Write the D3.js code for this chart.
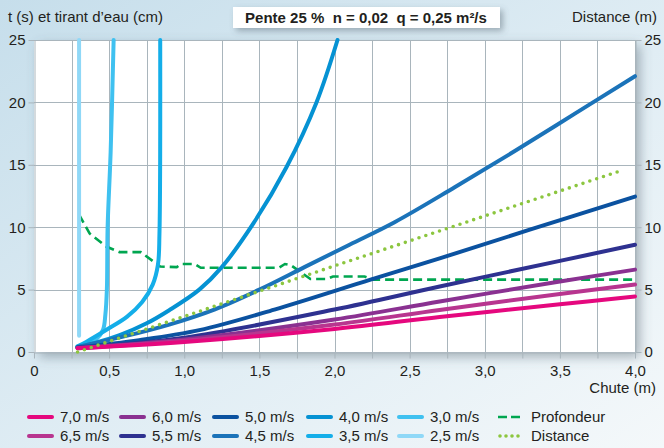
<!DOCTYPE html>
<html>
<head>
<meta charset="utf-8">
<script src="https://cdn.jsdelivr.net/npm/d3@7"></script>
<style>
	body { margin: 0; }
	svg { display: block; font-family: "Liberation Sans", Arial, sans-serif; }
</style>
</head>
<body>
<svg class="chart"></svg>
<script>

// chute (m) / t (s)
let s70 = [[0.29, 0.3], [1.0, 0.8], [2.0, 1.85], [2.7, 2.8], [3.5, 3.82], [4.0, 4.45]];
let s65 = [[0.29, 0.3], [1.0, 0.9], [2.0, 2.2], [2.7, 3.37], [3.5, 4.65], [4.0, 5.4]];
let s60 = [[0.29, 0.32], [1.0, 1.0], [2.0, 2.6], [2.7, 4.05], [3.5, 5.65], [4.0, 6.6]];
let s55 = [[0.29, 0.34], [1.0, 1.15], [2.0, 3.4], [2.7, 5.25], [3.5, 7.3], [4.0, 8.6]];
let s50 = [[0.29, 0.36], [0.7, 0.95], [1.1, 1.75], [1.6, 3.4], [2.24, 5.8], [2.7, 7.5], [3.3, 9.8], [4.0, 12.45]];
let s45 = [[0.29, 0.4], [0.6, 1.25], [0.9, 2.2], [1.2, 3.4], [1.5, 5.0], [1.8, 6.8], [2.1, 8.6], [2.4, 10.4], [2.8, 13.2], [3.2, 16.1], [3.6, 19.1], [4.0, 22.1]];
let s40 = [[0.29, 0.4], [0.4, 0.7], [0.57, 1.35], [0.75, 2.3], [0.9, 3.35], [1.1, 5.0], [1.25, 6.8], [1.46, 10.3], [1.68, 14.8], [1.88, 20.0], [2.02, 25]];
let s35 = [[0.29, 0.45], [0.35, 0.83], [0.48, 1.76], [0.62, 2.83], [0.72, 4.0], [0.79, 5.4], [0.825, 7.0], [0.835, 9.5], [0.84, 25]];
let s30 = [[0.29, 0.45], [0.35, 0.7], [0.42, 1.1], [0.46, 1.8], [0.475, 3], [0.485, 5], [0.49, 10], [0.51, 16], [0.53, 25]];
let s25 = [[0.30, 1.3], [0.30, 25]];

let profondeur = [[0.30, 11.0], [0.37, 9.5], [0.48, 8.45], [0.57, 8.0], [0.71, 8.0], [0.84, 6.85], [0.95, 6.8], [0.98, 7.05], [1.07, 7.05], [1.11, 6.75],
	[1.63, 6.75], [1.67, 7.05], [1.71, 6.95], [1.84, 5.85], [1.95, 5.85], [1.99, 6.05], [2.20, 6.05], [2.26, 5.8], [4.0, 5.8]];
let distance = [[0.29, 0.0], [1.0, 2.85], [2.0, 6.9], [3.0, 10.9], [3.9, 14.5]];

let speedLabels = ['2,5 m/s', '3,0 m/s', '3,5 m/s', '4,0 m/s', '4,5 m/s', '5,0 m/s', '5,5 m/s', '6,0 m/s', '6,5 m/s', '7,0 m/s'];
let speedSeries = [s25, s30, s35, s40, s45, s50, s55, s60, s65, s70];
let speedColors = ['#8fd8f7', '#3fc1f0', '#14aee9', '#0592d3', '#1b73b9', '#0b52a0', '#2e3190', '#8a3191', '#b8358f', '#e5087e'];

let yTicks = [0, 5, 10, 15, 20, 25];
let xTicks = d3.range(0, 4.01, 0.25);

let title = 'Pente 25 %  n = 0,02  q = 0,25 m²/s';

let width = 664, height = 448;

let x = d3.scaleLinear().domain([0, 4]).range([34, 635]);
let y = d3.scaleLinear().domain([0, 25]).range([352, 40]);

let svg = d3.select('.chart')
			.attr('width', width)
			.attr('height', height);

let defs = svg.append('defs');

let bg = defs.append('linearGradient')
		.attr('id', 'bg')
		.attr('x1', 0).attr('y1', 0).attr('x2', 1).attr('y2', 1);
bg.append('stop').attr('offset', 0).attr('stop-color', '#c6deeb');
bg.append('stop').attr('offset', 0.55).attr('stop-color', '#e0edf4');
bg.append('stop').attr('offset', 1).attr('stop-color', '#f4f8fa');

let shadow = defs.append('filter')
		.attr('id', 'shadow')
		.attr('x', -0.1).attr('y', -0.1).attr('width', 1.3).attr('height', 1.3);
shadow.append('feDropShadow')
		.attr('dx', 5).attr('dy', 5)
		.attr('stdDeviation', 6)
		.attr('flood-color', '#4d5f6a')
		.attr('flood-opacity', 0.45);

let shadowSmall = defs.append('filter')
		.attr('id', 'shadowSmall')
		.attr('x', -0.1).attr('y', -0.3).attr('width', 1.2).attr('height', 1.8);
shadowSmall.append('feDropShadow')
		.attr('dx', 3).attr('dy', 3)
		.attr('stdDeviation', 3)
		.attr('flood-color', '#4d5f6a')
		.attr('flood-opacity', 0.45);

svg.append('rect')
		.attr('width', width)
		.attr('height', height)
		.attr('fill', 'url(#bg)');

// plot area
svg.append('rect')
		.attr('x', x(0))
		.attr('y', y(25))
		.attr('width', x(4) - x(0))
		.attr('height', y(0) - y(25))
		.attr('fill', '#fff')
		.attr('filter', 'url(#shadow)');

let grid = svg.append('g').attr('stroke', '#a9b5bc').attr('stroke-width', 1);

grid.selectAll('.vx')
		.data(xTicks.slice(1))
	.enter().append('line')
		.attr('x1', d => Math.round(x(d)) + 0.5)
		.attr('x2', d => Math.round(x(d)) + 0.5)
		.attr('y1', y(25))
		.attr('y2', y(0));

grid.selectAll('.hy')
		.data(yTicks.slice(1))
	.enter().append('line')
		.attr('x1', x(0))
		.attr('x2', x(4))
		.attr('y1', d => Math.round(y(d)) + 0.5)
		.attr('y2', d => Math.round(y(d)) + 0.5);

let fmt = d => d === 0 ? '0' : d.toFixed(1).replace('.', ',');

let axisLeft = svg.append('g')
		.attr('transform', 'translate(' + (Math.round(x(0)) + 0.5) + ',0)')
		.call(d3.axisLeft(y).tickValues(yTicks).tickSize(6).tickSizeOuter(0).tickPadding(3).tickFormat(d => d));

let axisRight = svg.append('g')
		.attr('transform', 'translate(' + (Math.round(x(4)) + 0.5) + ',0)')
		.call(d3.axisRight(y).tickValues(yTicks).tickSize(6).tickSizeOuter(0).tickPadding(3).tickFormat(d => d));

let axisBottom = svg.append('g')
		.attr('transform', 'translate(0,' + (Math.round(y(0)) + 0.5) + ')')
		.call(d3.axisBottom(x).tickValues(xTicks).tickSize(6).tickSizeOuter(0).tickPadding(7)
			.tickFormat(d => (Math.round(d * 4) % 2 === 0) ? fmt(d) : ''));

[axisLeft, axisRight, axisBottom].forEach(function(a) {
	a.selectAll('.domain').attr('stroke', '#a9b5bc');
	a.selectAll('.tick line').attr('stroke', '#a9b5bc');
	a.selectAll('text')
		.attr('font-family', '"Liberation Sans", Arial, sans-serif')
		.attr('font-size', 15)
		.attr('fill', '#231f20');
});

// series
let line = d3.line()
		.x(d => x(d[0]))
		.y(d => y(d[1]))
		.curve(d3.curveCatmullRom.alpha(0.5));

let lineStraight = d3.line()
		.x(d => x(d[0]))
		.y(d => y(d[1]));

svg.append('path')
		.attr('d', lineStraight(profondeur))
		.attr('fill', 'none')
		.attr('stroke', '#00a650')
		.attr('stroke-width', 2.6)
		.attr('stroke-dasharray', '9,5');

svg.selectAll('.speed')
		.data(speedSeries)
	.enter().append('path')
		.attr('d', d => line(d))
		.attr('fill', 'none')
		.attr('stroke', (d, i) => speedColors[i])
		.attr('stroke-width', 4)
		.attr('stroke-linecap', 'round')
		.attr('stroke-linejoin', 'round');

svg.append('path')
		.attr('d', lineStraight(distance))
		.attr('fill', 'none')
		.attr('stroke', '#8cc63f')
		.attr('stroke-width', 3.6)
		.attr('stroke-linecap', 'round')
		.attr('stroke-dasharray', '0,7.2');

// texts
let txt = function(xp, yp, s, anchor) {
	return svg.append('text')
		.attr('x', xp)
		.attr('y', yp)
		.attr('font-size', 15)
		.attr('fill', '#231f20')
		.attr('text-anchor', anchor || 'start')
		.text(s);
};

txt(8, 22, 't (s) et tirant d\u2019eau (cm)');
txt(657, 22, 'Distance (m)', 'end');
txt(656, 393, 'Chute (m)', 'end');

svg.append('rect')
		.attr('x', 233)
		.attr('y', 7)
		.attr('width', 267)
		.attr('height', 21)
		.attr('fill', '#fff')
		.attr('filter', 'url(#shadowSmall)');

txt(366, 23, title, 'middle')
		.attr('font-weight', 'bold')
		.style('white-space', 'pre');

// legend
let legendItems = [];
let cols = [27, 119, 212, 306, 397];
let rows = [417, 436];
for (let c = 0; c < 5; c++) {
	legendItems.push({ label: speedLabels[9 - 2 * c], color: speedColors[9 - 2 * c], x: cols[c], y: rows[0] });
	legendItems.push({ label: speedLabels[8 - 2 * c], color: speedColors[8 - 2 * c], x: cols[c], y: rows[1] });
}

let leg = svg.selectAll('.leg')
		.data(legendItems)
	.enter().append('g')
		.attr('transform', d => 'translate(' + d.x + ',' + d.y + ')');

leg.append('line')
		.attr('x1', 2).attr('x2', 25)
		.attr('stroke', d => d.color)
		.attr('stroke-width', 4)
		.attr('stroke-linecap', 'round');

leg.append('text')
		.attr('x', 33)
		.attr('dy', '0.35em')
		.attr('font-size', 15)
		.attr('fill', '#231f20')
		.text(d => d.label);

let lp = svg.append('g').attr('transform', 'translate(498,' + rows[0] + ')');
lp.append('line')
		.attr('x1', 0).attr('x2', 26)
		.attr('stroke', '#00a650')
		.attr('stroke-width', 2.6)
		.attr('stroke-dasharray', '9,4');
lp.append('text')
		.attr('x', 33).attr('dy', '0.35em')
		.attr('font-size', 15).attr('fill', '#231f20')
		.text('Profondeur');

let ld = svg.append('g').attr('transform', 'translate(498,' + rows[1] + ')');
ld.append('line')
		.attr('x1', 2).attr('x2', 26)
		.attr('stroke', '#8cc63f')
		.attr('stroke-width', 3.6)
		.attr('stroke-linecap', 'round')
		.attr('stroke-dasharray', '0,6');
ld.append('text')
		.attr('x', 33).attr('dy', '0.35em')
		.attr('font-size', 15).attr('fill', '#231f20')
		.text('Distance');

</script>
</body>
</html>
